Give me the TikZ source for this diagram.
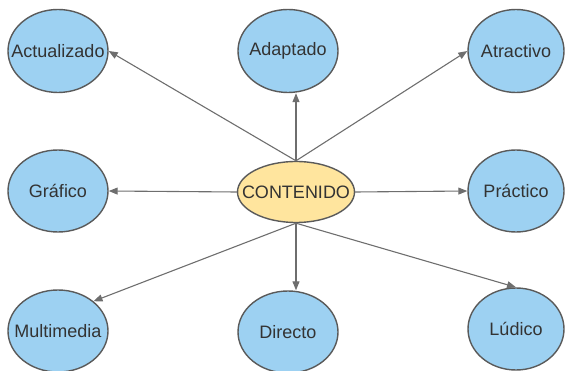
\documentclass[tikz,border=0pt]{standalone}
\usepackage{fontspec}
\setmainfont{Liberation Sans}
\usetikzlibrary{shapes.geometric,arrows.meta}
\definecolor{bluefill}{HTML}{9DD1F2}
\definecolor{yellowfill}{HTML}{FFE59E}
\definecolor{edgegray}{HTML}{5A5A5A}
\definecolor{arrowgray}{HTML}{6E6E6E}
\definecolor{textgray}{HTML}{333333}
\newcommand{\zb}[1]{\makebox[0pt]{#1}}
\tikzset{
  bubble/.style={ellipse, draw=edgegray, line width=1.4pt, fill=bluefill, inner sep=0pt,
    text=textgray, font=\fontsize{18}{20}\selectfont},
  centre/.style={bubble, fill=yellowfill},
  conn/.style={draw=arrowgray, line width=1.1pt, -{Triangle[length=9pt,width=7pt]}}
}
\begin{document}
\begin{tikzpicture}[x=1pt,y=-1pt]
\useasboundingbox (0,0) rectangle (565,371);
\node[bubble, minimum width=100pt, minimum height=83pt] (act) at (58,51) {\zb{Actualizado}};
\node[bubble, minimum width=100pt, minimum height=83pt] (ada) at (288,51) {\zb{Adaptado}};
\node[bubble, minimum width=96pt, minimum height=83pt] (atr) at (516,51) {\zb{Atractivo}};
\node[bubble, minimum width=100pt, minimum height=82pt] (gra) at (58,191) {\zb{Gráfico}};
\node[centre, minimum width=117pt, minimum height=61pt] (con) at (296,192) {\zb{CONTENIDO}};
\node[bubble, minimum width=96pt, minimum height=82pt] (pra) at (516,191) {\zb{Práctico}};
\node[bubble, minimum width=100pt, minimum height=82pt] (mul) at (58,331) {\zb{Multimedia}};
\node[bubble, minimum width=100pt, minimum height=82pt] (dir) at (288,332) {\zb{Directo}};
\node[bubble, minimum width=96pt, minimum height=82pt] (lud) at (516,329) {\zb{Lúdico}};
\coordinate (adaend) at (con.north |- ada.south);
\coordinate (dirend) at (con.south |- dir.north);
\draw[conn] (con.north) -- (act.east);
\draw[conn] (con.north) -- (adaend);
\draw[conn] (con.north) -- (atr.west);
\draw[conn] (con.west) -- (gra.east);
\draw[conn] (con.east) -- (pra.west);
\draw[conn] (con.south) -- (mul.40);
\draw[conn] (con.south) -- (dirend);
\draw[conn] (con.south) -- (lud.north);
\end{tikzpicture}
\end{document}
